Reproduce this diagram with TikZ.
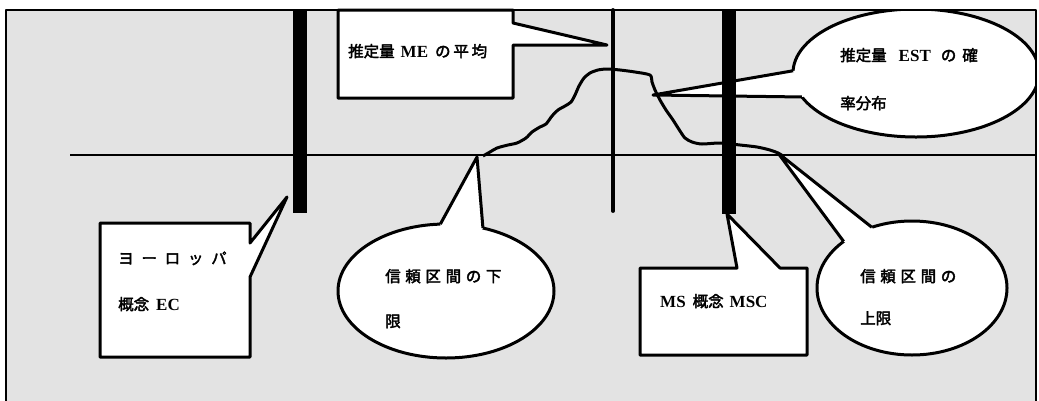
\documentclass[tikz,border=0pt]{standalone}
\usepackage{fontspec}
\usetikzlibrary{calc}
\setmainfont{Liberation Serif}
\newfontfamily\cjk[FakeBold=2.5]{Noto Sans CJK JP}
\newcommand\J[1]{{\cjk\fontsize{15.5}{18}\selectfont #1}}
\newcommand\Lat[1]{{\fontsize{17}{18}\selectfont\bfseries #1}}
\begin{document}
\begin{tikzpicture}[x=1pt,y=-1pt,line join=round,
  ln/.style={line width=3pt},
  callout/.style={fill=white,draw=black,line width=3pt,line join=round},
  lbl/.style={anchor=base west,inner sep=0pt,font=\fontsize{16}{18}\selectfont},
  bar/.style={fill=black}]
\useasboundingbox (0,0) rectangle (1039,400);
\fill[white] (0,0) rectangle (1039,400);
% stippled background
\fill[black!11] (6,10) rectangle (1036,402);

% axis
\coordinate (ax0) at (70,155);
\coordinate (ax1) at (1036,155);
\draw[line width=2.6pt] (ax0) -- (ax1);

% distribution curve
\draw[ln] plot[smooth,tension=0.45] coordinates {
  (483,156) (490,152) (497,148) (508,145) (517,143) (526,138) (532,132)
  (540,127) (546,124) (552,116) (558,110) (565,106) (571,102) (575,95)
  (579,86) (584,78) (590,73) (598,70) (607,69) (620,70) (635,72) (650,75)
  (652,82) (655,90) (660,100) (666,110) (673,120) (680,131) (685,138)
  (692,142) (702,144) (720,143) (740,145) (757,147) (770,150) (778,153) (783,156)};

% mean line ME
\coordinate (me0) at (613,10);
\coordinate (me1) at (613,211);
\draw[line width=3.8pt,line cap=round] (me0) -- (me1);

% ---- callout: Europe concept EC
\coordinate (ectip) at (287,197);
\filldraw[callout] (100,223) -- (250,223) -- (250,243) -- (ectip) -- (250,277)
  -- (250,357) -- (100,357) -- cycle;

% ---- callout: MSC
\coordinate (msctip) at (727,214);
\filldraw[callout] (640,268) -- (737,268) -- (msctip) -- (780,268) -- (807,268)
  -- (807,355) -- (640,355) -- cycle;

% ---- callout: ME mean
\coordinate (metip) at (607,45);
\filldraw[callout] (338,10) -- (513,10) -- (513,23) -- (metip) -- (513,45)
  -- (513,98) -- (338,98) -- cycle;

% ---- ellipse callout: lower limit
\coordinate (loc) at (446,291);
\coordinate (lotip) at (477,157);
\filldraw[callout] (loc) ellipse [x radius=108, y radius=67];
\coordinate (lob1) at ($(loc)+(-93:108 and 67)$);
\coordinate (lob2) at ($(loc)+(-70:108 and 67)$);
\fill[white] (lob1) -- (lotip) -- (lob2) -- (loc) -- cycle;
\draw[ln] (lob1) -- (lotip) -- (lob2);

% ---- ellipse callout: upper limit
\coordinate (upc) at (912,288);
\coordinate (uptip) at (778,153);
\filldraw[callout] (upc) ellipse [x radius=95, y radius=67];
\coordinate (upb1) at ($(upc)+(-136:95 and 67)$);
\coordinate (upb2) at ($(upc)+(-115:95 and 67)$);
\fill[white] (upb1) -- (uptip) -- (upb2) -- (upc) -- cycle;
\draw[ln] (upb1) -- (uptip) -- (upb2);

% ---- ellipse callout: EST distribution
\coordinate (estc) at (916,73);
\coordinate (esttip) at (653,95);
\begin{scope}
\clip (6,10) rectangle (1036,402);
\filldraw[callout] (estc) ellipse [x radius=123, y radius=64];
\coordinate (estb1) at ($(estc)+(-178:123 and 64)$);
\coordinate (estb2) at ($(estc)+(158:123 and 64)$);
\fill[white] (estb1) -- (esttip) -- (estb2) -- (estc) -- cycle;
\draw[ln] (estb1) -- (esttip) -- (estb2);
\end{scope}

% thick bars
\fill[bar] (293,10) rectangle (307,213);
\fill[bar] (722,10) rectangle (736,214);

% frame
\draw[line width=2.6pt] (6,402) -- (6,10) -- (1036,10) -- (1036,402);

% texts
\node[lbl] (metxt) at (348,57) {\J{推定量}\hspace{6pt}\Lat{ME}\hspace{7pt}\J{\addfontfeature{LetterSpace=18}の平均}};
\node[lbl] (est1) at (840,61) {\J{推定量}\hspace{12pt}\Lat{EST}\hspace{10pt}\J{の}\hspace{6pt}\J{確}};
\node[lbl] (est2) at (840,109) {\J{率分布}};
\node[lbl] (ec1) at (118,264) {\J{\addfontfeature{LetterSpace=50}ヨーロッパ}};
\node[lbl] (ec2) at (118,310) {\J{概念}\hspace{7pt}\Lat{EC}};
\node[lbl] (lo1) at (385,282) {\J{\addfontfeature{LetterSpace=30}信頼区間の下}};
\node[lbl] (lo2) at (385,327) {\J{限}};
\node[lbl] (msc) at (660,307) {\Lat{MS}\hspace{7pt}\J{概念}\hspace{6pt}\Lat{MSC}};
\node[lbl] (up1) at (860,282) {\J{\addfontfeature{LetterSpace=30}信頼区間の}};
\node[lbl] (up2) at (860,324) {\J{上限}};
\end{tikzpicture}
\end{document}
